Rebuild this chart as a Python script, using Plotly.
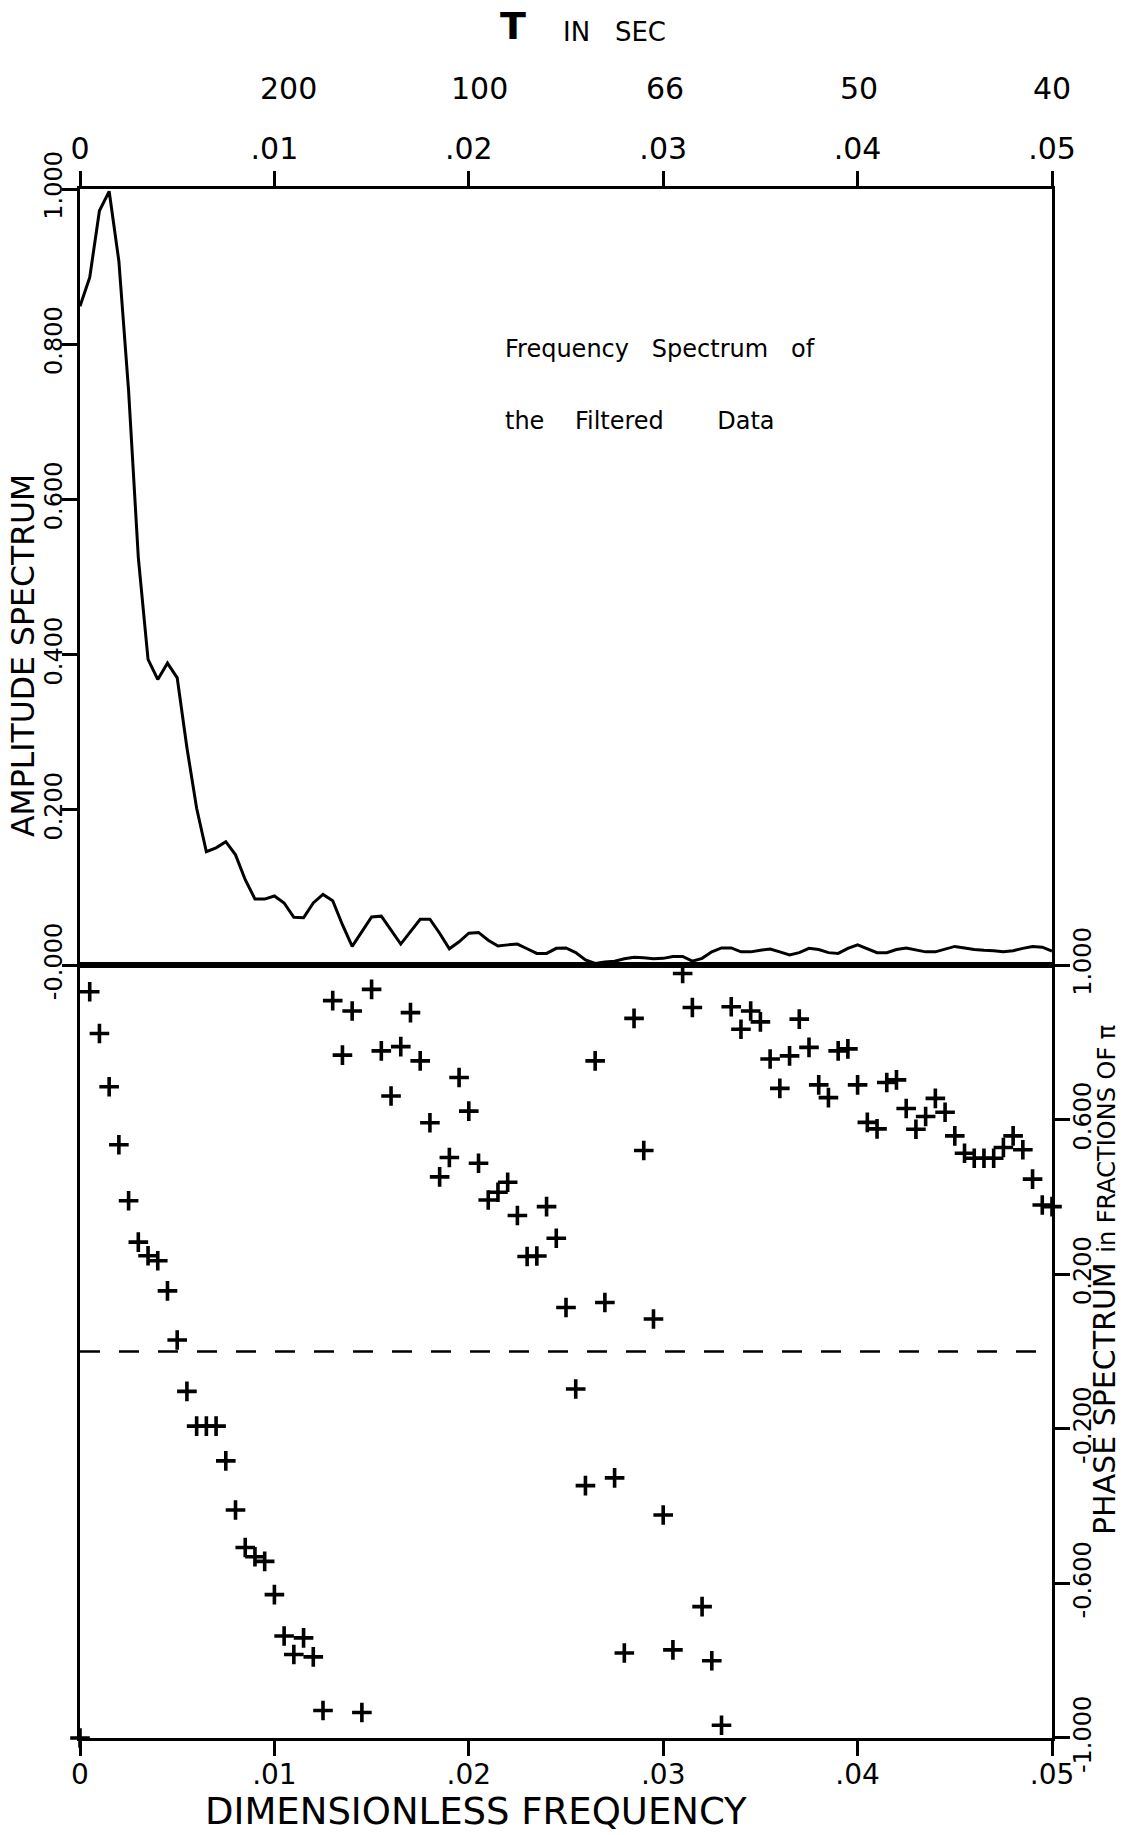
import plotly.graph_objects as go

# Sampling of the spectrum: 101 harmonics, dimensionless step 0.0005
freq_step = 0.0005
n_harm = 101
freq = [k * freq_step for k in range(n_harm)]

# Normalised amplitude spectrum of the filtered record
amplitude = [
    0.849, 0.886, 0.972, 0.997, 0.907, 0.740, 0.525, 0.394, 0.368, 0.389,
    0.370, 0.280, 0.202, 0.146, 0.151, 0.159, 0.142, 0.110, 0.085, 0.085,
    0.089, 0.080, 0.0615, 0.061, 0.080, 0.091, 0.083, 0.052, 0.024, 0.043,
    0.062, 0.063, 0.045, 0.027, 0.043, 0.059, 0.059, 0.041, 0.021, 0.030,
    0.041, 0.042, 0.032, 0.0245, 0.026, 0.027, 0.021, 0.015, 0.015, 0.0215,
    0.022, 0.016, 0.0065, 0.002, 0.004, 0.005, 0.008, 0.010, 0.0095, 0.008,
    0.0086, 0.011, 0.011, 0.005, 0.0086, 0.017, 0.022, 0.022, 0.017, 0.017,
    0.019, 0.0206, 0.017, 0.013, 0.016, 0.0215, 0.020, 0.016, 0.015, 0.0215,
    0.026, 0.0206, 0.016, 0.016, 0.020, 0.022, 0.019, 0.017, 0.017, 0.0206,
    0.024, 0.022, 0.020, 0.019, 0.0185, 0.017, 0.0185, 0.0215, 0.024, 0.023,
    0.018,
]

# Phase spectrum in fractions of pi
phase = [
    -1.000, 0.931, 0.823, 0.685, 0.535, 0.390, 0.283, 0.248, 0.235, 0.157,
    0.030, -0.103, -0.193, -0.193, -0.193, -0.283, -0.410, -0.507, -0.531, -0.543,
    -0.629, -0.736, -0.784, -0.741, -0.790, -0.929, 0.908, 0.767, 0.881, -0.934,
    0.937, 0.778, 0.661, 0.789, 0.877, 0.752, 0.592, 0.452, 0.502, 0.709,
    0.622, 0.487, 0.392, 0.412, 0.438, 0.352, 0.246, 0.247, 0.375, 0.293,
    0.114, -0.097, -0.347, 0.752, 0.127, -0.327, -0.780, 0.862, 0.520, 0.084,
    -0.423, -0.772, 0.978, 0.890, -0.660, -0.800, -0.967, 0.892, 0.834, 0.881,
    0.853, 0.757, 0.681, 0.765, 0.860, 0.787, 0.690, 0.657, 0.778, 0.783,
    0.690, 0.593, 0.576, 0.696, 0.703, 0.629, 0.575, 0.608, 0.655, 0.619,
    0.558, 0.513, 0.500, 0.500, 0.500, 0.528, 0.558, 0.522, 0.446, 0.379,
    0.375,
]

# Axis ticks
freq_ticks = [0, 0.01, 0.02, 0.03, 0.04, 0.05]
freq_labels = ["0", ".01", ".02", ".03", ".04", ".05"]
amp_ticks = [0, 0.2, 0.4, 0.6, 0.8, 1.0]
amp_labels = ["-0.000", "0.200", "0.400", "0.600", "0.800", "1.000"]
phase_ticks = [-1.0, -0.6, -0.2, 0.2, 0.6, 1.0]
phase_labels = ["-1.000", "-0.600", "-0.200", "0.200", "0.600", "1.000"]

# Period scale along the top (sampling interval 2 s)
dt_sec = 2.0
periods = [200, 100, 66, 50, 40]
period_shift = [14, 11, -4, 1, 0]

W, H = 1126, 1835
ML, MR, MT, MB = 80, 74, 189, 97
PW = W - ML - MR
PH = H - MT - MB
split = 0.499

FONT = "DejaVu Sans, sans-serif"
INK = "black"
NB = "\u00a0"


def px_x(px):
    return (px - ML) / PW


def px_y(py):
    return (H - MB - py) / PH


fig = go.Figure()

fig.add_trace(go.Scatter(
    x=freq, y=amplitude, xaxis="x2", yaxis="y2", mode="lines",
    line=dict(color=INK, width=3), hoverinfo="x+y", showlegend=False,
))

fig.add_trace(go.Scatter(
    x=freq, y=phase, xaxis="x", yaxis="y", mode="markers",
    marker=dict(symbol="cross-thin", size=14, color=INK, line=dict(width=3.6, color=INK)),
    cliponaxis=False, showlegend=False,
))

axis_common = dict(
    showgrid=False, zeroline=False, showline=True, linecolor=INK, linewidth=3,
    ticks="outside", tickcolor=INK, tickwidth=2.5, ticklen=15, mirror=True,
    automargin=False,
)

fig.update_layout(
    width=W, height=H,
    margin=dict(l=ML, r=MR, t=MT, b=MB, pad=0),
    paper_bgcolor="white", plot_bgcolor="white",
    font=dict(family=FONT, color=INK),
    xaxis=dict(
        domain=[0, 1], range=[0, 0.05], anchor="y", side="bottom",
        tickvals=freq_ticks, ticktext=freq_labels, ticklabelstandoff=-6,
        tickfont=dict(size=28, family=FONT), **axis_common,
    ),
    yaxis=dict(
        domain=[0, split], range=[-1, 1], anchor="x", side="right",
        tickvals=phase_ticks, ticktext=phase_labels, tickangle=-90,
        ticklabelstandoff=-8,
        tickfont=dict(size=24, family=FONT), **axis_common,
    ),
    xaxis2=dict(
        domain=[0, 1], range=[0, 0.05], anchor="y2", side="top",
        tickvals=freq_ticks, ticktext=freq_labels,
        tickfont=dict(size=30, family=FONT), **axis_common,
    ),
    yaxis2=dict(
        domain=[split, 1], range=[0, 1], anchor="x2", side="left",
        tickvals=amp_ticks, ticktext=amp_labels, tickangle=-90,
        ticklabelstandoff=-10,
        tickfont=dict(size=24, family=FONT), **axis_common,
    ),
    shapes=[
        dict(type="line", xref="x domain", yref="y", x0=0, x1=1, y0=0, y1=0,
             line=dict(color=INK, width=2.5, dash="20px,19px")),
    ],
)

ann = []
# Period labels along the top
for T, sh in zip(periods, period_shift):
    ann.append(dict(
        x=dt_sec / T, y=px_y(88), xref="x2", yref="paper", text=str(T),
        showarrow=False, xshift=sh, font=dict(size=30, family=FONT),
        xanchor="center", yanchor="middle",
    ))
ann += [
    dict(x=px_x(513), y=px_y(26), xref="paper", yref="paper", text="<b>T</b>",
         showarrow=False, font=dict(size=38, family=FONT), xanchor="center", yanchor="middle"),
    dict(x=px_x(561), y=px_y(32), xref="paper", yref="paper", text="IN" + NB * 3 + "SEC",
         showarrow=False, font=dict(size=26, family=FONT), xanchor="left", yanchor="middle"),
    dict(x=px_x(503), y=px_y(349), xref="paper", yref="paper",
         text="Frequency" + NB * 3 + "Spectrum" + NB * 3 + "of",
         showarrow=False, font=dict(size=24, family=FONT),
         xanchor="left", yanchor="middle"),
    dict(x=px_x(503), y=px_y(421), xref="paper", yref="paper",
         text="the" + NB * 4 + "Filtered" + NB * 7 + "Data",
         showarrow=False, font=dict(size=24, family=FONT),
         xanchor="left", yanchor="middle"),
    dict(x=px_x(23), y=px_y(656), xref="paper", yref="paper", text="AMPLITUDE SPECTRUM",
         textangle=-90, showarrow=False, font=dict(size=31.5, family=FONT),
         xanchor="center", yanchor="middle"),
    dict(x=px_x(1104), y=px_y(1280), xref="paper", yref="paper",
         text="PHASE SPECTRUM <span style='font-size:24px'>in FRACTIONS OF \u03c0</span>",
         textangle=-90, showarrow=False, font=dict(size=30, family=FONT),
         xanchor="center", yanchor="middle"),
    dict(x=px_x(476), y=px_y(1811), xref="paper", yref="paper", text="DIMENSIONLESS FREQUENCY",
         showarrow=False, font=dict(size=37, family=FONT), xanchor="center", yanchor="middle"),
]
fig.update_layout(annotations=ann)

fig.write_html("out.html")
